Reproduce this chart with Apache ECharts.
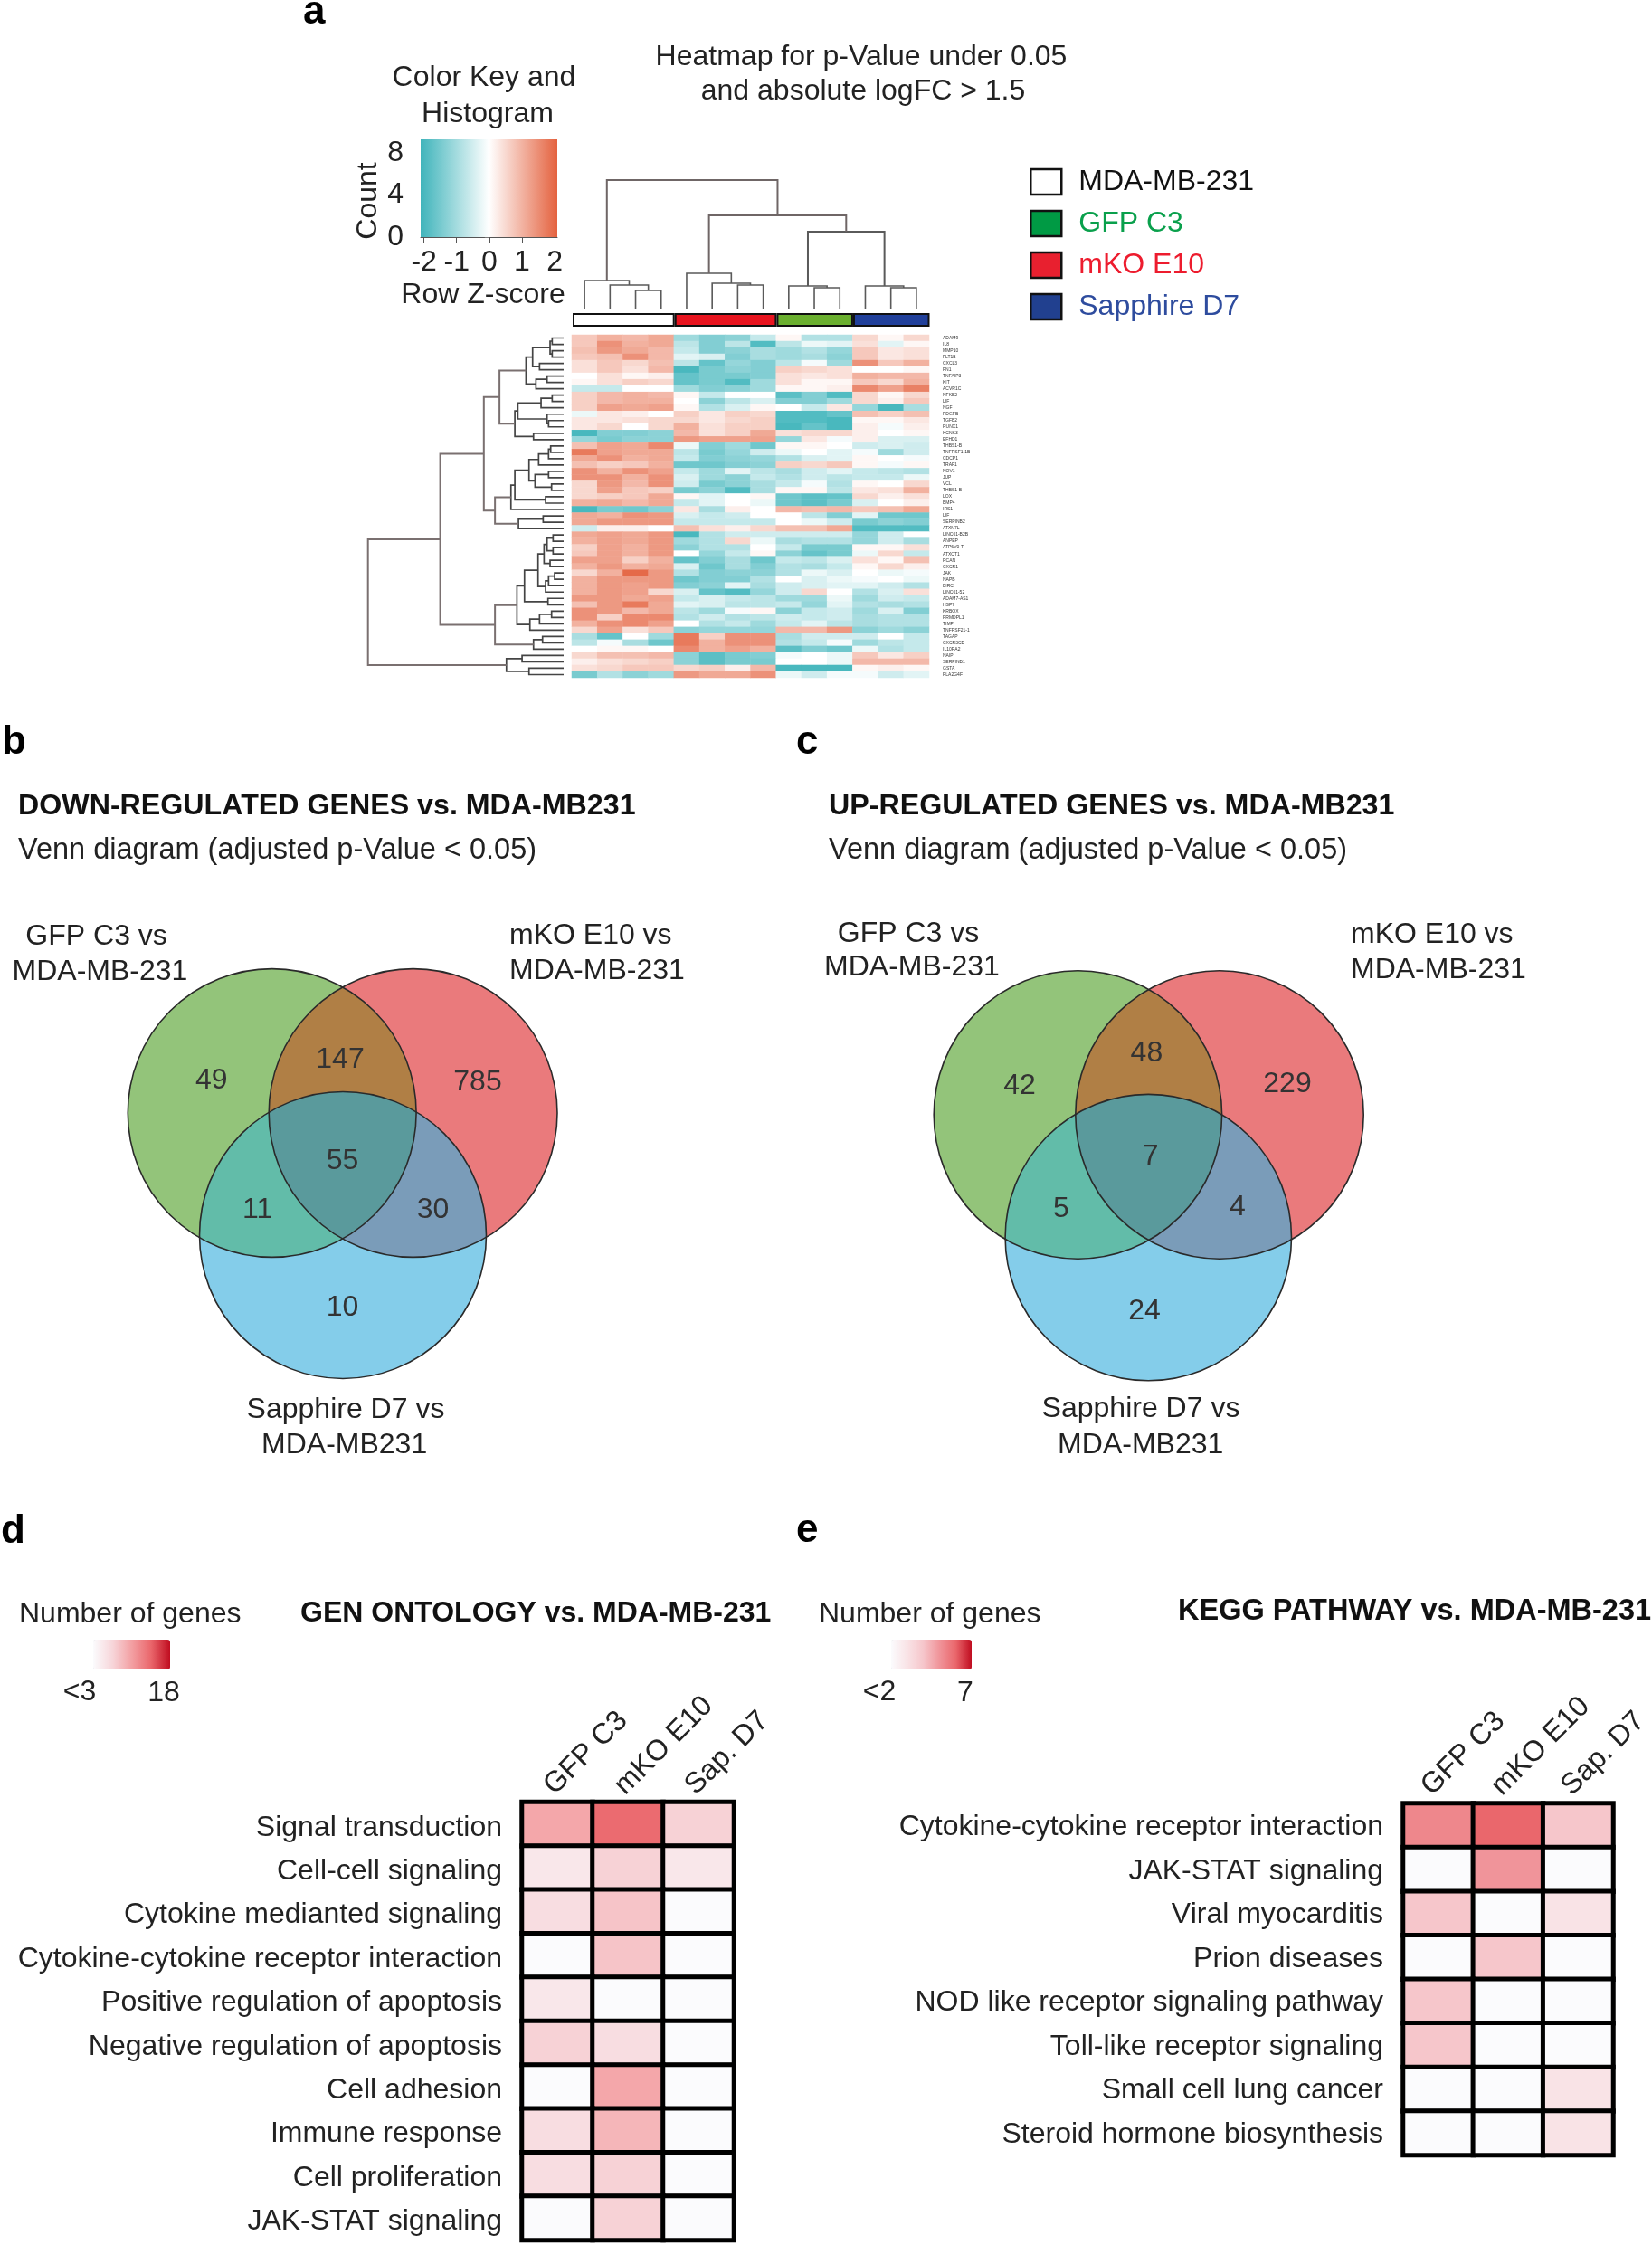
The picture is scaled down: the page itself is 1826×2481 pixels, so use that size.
<!DOCTYPE html>
<html><head><meta charset="utf-8"><style>html,body{margin:0;background:#fff}#c{width:1826px;height:2481px}</style>
<script src="https://cdn.jsdelivr.net/npm/echarts@6/dist/echarts.min.js"></script></head><body><div id="c"></div>
<script>
// ---------- DATA ----------
const heatColumns = ['1','2','3','4','5','6','7','8','9','10','11','12','13','14'];
const geneLabels = ['ADAM9','IL8','MMP10','FLT1B','CXCL3','FN1','TNFAIP3','KIT','ACVR1C','NFKB2','LIF','NGF','PDGFB','TGFB2','RUNX1','KCNK3','EFHD1','THBS1-B','TNFRSF1-1B','CDCP1','TRAF1','NOV1','JUP','VCL','THBS1-B','LOX','BMP4','IRS1','LIF','SERPINB2','ATXN7L','LINC01-B2B','ANPEP','ATP6V0-T','ATXCT1','RCAN','CXCR1','JAK','NAPB','BIRC','LINC01-52','ADAM7-AS1','HSP7','KRBOX','PRMDPL1','TIMP','TNFRSF21-1','TAGAP','CXCR3CB','IL10RA2','NAIP','SERPINB1','GSTA','PLA2G4F'];
const heatRows = [
[.7,1,.9,1.1,-1,-1.3,-1.2,-.6,.1,-.8,-.8,.5,.1,.5],
[.7,1.4,1,1.1,-.7,-1.3,-.7,-1.8,-.7,-.2,-.3,.4,-.3,.1],
[.8,1.3,1.1,.9,-.6,-1.3,-1.2,-.9,-1,-.8,-1.1,.7,.3,.4],
[.7,.8,1.4,.9,-.3,-.4,-1.3,-.9,-1,-.9,-1.2,.7,.3,.4],
[.4,.7,.5,.8,-.7,-1.6,-1.1,-1.3,-.7,-.1,-1,1.4,.7,1],
[.4,.7,.4,.9,-1.9,-1.4,-1.2,-1.3,.6,.5,.4,0,0,.1],
[0,.4,.1,.2,-1.6,-1.4,-1.4,-1.3,.4,.3,.4,1,.9,.9],
[.1,.4,.6,.5,-1.6,-1.4,-1.8,-1,.4,.1,.1,.7,.5,1],
[-.6,-.6,0,0,-1,-1.3,-1.2,-1,.1,.1,.2,1.5,1.2,1.6],
[.6,.9,1,.9,.1,-.6,0,0,-1.7,-1.3,-1.8,.5,.1,.5],
[.6,.9,1,1,0,-1.2,-.7,-.4,-1.3,-1.3,-1,.5,.2,.7],
[.6,1.2,1.1,1.2,.1,-.8,-.4,.1,0,-.6,.3,-1.1,-1.9,-.9],
[-.2,.3,.2,0,.6,.3,.6,.5,-1.8,-1.8,-1.6,.8,.6,.8],
[.3,.3,.4,.5,.5,.3,.5,.6,-1.8,-1.8,-1.9,.1,.1,.3],
[.3,.5,0,.5,1,.4,.6,.6,-1.9,-1.6,-1.9,.2,-.1,.2],
[-1.9,-1.3,-1.3,-1.2,.9,.4,.6,1.1,.4,.5,.5,.2,0,.1],
[-1.1,-1.4,-1.2,-1.2,1.3,1.2,1.2,1.2,-1.1,.3,-.1,.2,-.4,-.4],
[.8,1.2,1.1,1.5,-.2,-1.3,-1,-1.5,.1,.1,0,-.5,-.4,-.5],
[1.7,1.2,1.1,1.1,-.7,-1.4,-1.1,-.5,-.2,0,-.3,-.1,-1,-.5],
[1.1,1.4,1,1.1,-.6,-1.3,-1.2,-1.1,-.8,-.4,-.3,.1,0,-.1],
[.8,.6,.7,1,-1.5,-1.5,-1.3,-1.2,.6,.5,.7,.1,-.1,.1],
[1.4,1,1.4,1.2,-.6,-1,-.3,-.7,-.9,-.5,-.3,-.6,-.7,-.8],
[1.4,1.4,1,1.4,-.4,-1,-1.2,-.6,-.8,-.5,-.7,-.6,-.6,-.2],
[.5,1.3,.9,1.4,-.5,-1.4,-1.2,-.9,-.6,-.1,-.8,.1,0,.5],
[.5,1.2,.7,.6,-1.4,-1.2,-1.8,-.9,.1,.1,-.7,.3,.4,1],
[.5,.6,.7,1.1,.1,-.3,0,.1,-1.5,-1.7,-1.6,.5,.2,.4],
[1,1.1,.9,1.1,-.6,-.3,0,-.2,-1.5,-1.7,-1.4,-.4,0,.2],
[-1.9,-1.4,-1.5,-1.2,.3,-.9,.2,0,.9,.8,.9,.7,.8,1.1],
[1.1,1,1.4,1.3,-.4,-.6,-.5,0,0,-.7,-1.3,-.3,-1.5,-1.5],
[1.1,1.3,1.3,1.3,-.6,-.6,-.6,-.6,0,-.2,-.5,-1.4,-1.2,-1.3],
[-.5,.2,.2,0,.8,.4,.2,.5,.8,.8,1.1,-1.8,-1.8,-1.8],
[1.1,1.2,1.1,1.3,-1.9,-.8,-.5,-.5,-.5,-.5,-.5,-1.1,-.5,0],
[1,1.2,1.1,1.3,-1,-.8,.5,-.2,-.9,-.8,-.8,-1.1,-.5,-.9],
[.6,1.2,1,1.3,-1.2,-.8,-.8,0,-.6,-1.4,-1.4,.1,.1,.4],
[.7,1.2,1,1.3,0,-1.1,-.6,.1,-1.2,-1.6,-1.4,-.2,.5,-.6],
[1.2,1.2,.6,1,-1.6,-1.3,-.9,-1.5,-.6,-.7,-.4,.4,.1,.8],
[1,1.3,1,1.1,-.4,-1.5,-.9,-1.3,-.8,-.9,-.6,.1,.5,.2],
[.5,1,1.9,1.3,-.8,-1.3,-1.2,-1.2,-.8,-.2,-.4,0,-.2,-.1],
[1,1.3,1.3,1.3,-1.5,-1.3,-1.3,-.8,0,-.4,-.2,-.1,0,-.2],
[1,1.3,1.2,1.3,-1.3,-1.2,-.3,-.9,-.5,-.4,-.3,-.3,-.5,-.8],
[1,1.3,1.2,.5,-.4,-1.6,-1.8,-1.1,-.5,.5,0,-.8,-.4,.4],
[1.3,1.3,1.1,1.2,-.6,-.4,-.6,-.7,-1,-1,-.2,-1,-.5,-.6],
[.8,1.3,1.7,1.1,-.3,-.4,-.7,-.7,-.6,-1.1,-.3,-.8,-.9,-.8],
[1.4,1.3,.9,1.1,-.7,-1,-.1,.1,-1.2,-.6,-.5,-1,-.4,-1.3],
[1.4,.6,1.5,1.5,-.8,-.5,-.8,-.7,-.5,-.6,-.5,-.9,-.8,-.8],
[1,1.4,1.5,1.2,0,-.8,-.6,-1,-.6,-.3,-.7,-.9,-.8,-.8],
[.5,1.2,.4,.7,-1.2,-1.1,-1.1,-1.1,.9,.9,1.3,-1.2,-1,-1.2],
[-.9,-1.6,0,-1,1.7,.6,1.4,1.4,-.9,-.5,-.5,-.5,0,-.6],
[-.7,-.1,-.9,-1.5,1.7,1,1.4,1.4,-.8,-.6,-.1,-1,-.7,-.6],
[0,.1,.1,0,1.5,1,1.2,1,-1.7,-1.3,-1.5,-.2,-.8,-.6],
[.5,.8,.8,.9,-1.2,-1.7,-1.4,-1.3,-.1,0,-.2,.7,.3,.6],
[.2,.4,.5,.6,-1.2,-1.7,-1.4,-1.4,0,0,-.2,.9,.9,.9],
[.4,.5,.7,.7,.5,.6,.2,.9,-1.9,-1.9,-1.9,.1,.2,.1],
[-1.4,-.8,-1.2,-1,1.3,1.1,1.1,1.4,-.2,-.5,-.1,-.1,-.5,-.3]
];
const keyColors = ['#3fb4bb','#ffffff','#e4623f'];
const keyXTicks = [-2,-1,0,1,2];
const keyYLabels = [0,4,8];
const keyYTicks = [0,1.6,3.2,4.8,6.4,8];
// dendrograms: node = [mergeHeight, left, right], leaf = row/column index
const colTree = [143,[32,0,[27,1,[21,2,3]]],[104,[40,4,[29,5,[27,6,7]]],[86,[26,8,[24,9,10]],[26,11,[24,12,13]]]]];
const rowTree = [650,
 [410,
  [265,
   [213,
    [125,[103,[45,[38,0,1],[38,2,3]],[80,4,5]],[92,[55,6,7],8]],
    [162,[152,[75,[38,9,10],11],[55,12,[50,13,14]]],[100,15,16]]],
   [228,
    [175,[162,[115,[83,[50,[43,17,18],19],20],[95,[50,21,22],[40,23,24]]],[60,25,26]],27],
    [150,[68,28,29],30]]],
  [228,
   [155,
    [130,[85,[65,[55,[35,31,32],[35,33,34]],[45,35,36]],[60,[50,[30,37,38],39],40]],[52,41,42]],
    [112,[80,[40,43,44],45],46]],
   [100,[70,47,48],49]]],
 [190,[138,50,51],[115,52,53]]];
const groupNames = ['MDA-MB-231','mKO E10','GFP C3','Sapphire D7'];
const groupSizes = [4,4,3,3];
const groupColors = ['#ffffff','#e8141f','#6bb02f','#21409a'];
const legendOrder = ['MDA-MB-231','GFP C3','mKO E10','Sapphire D7'];
const legendSwatch = ['#ffffff','#009a44','#e8202f','#21408f'];
const legendText = ['#111111','#0aa04c','#ed1c2e','#2e4c9e'];
// venn counts: G, R, B, G&R, G&B, R&B, G&R&B
const vennDown = [49,785,10,147,11,30,55];
const vennUp = [42,229,24,48,5,4,7];
const vennSets = [[0],[1],[2],[0,1],[0,2],[1,2],[0,1,2]];
const vennColors = ['#93c47a','#ea7a7c','#84cdea','#b07f45','#62bca9','#7a9cb9','#5a9a9c'];
const conditions = ['GFP C3','mKO E10','Sap. D7'];
const goTerms = ['Signal transduction','Cell-cell signaling','Cytokine medianted signaling','Cytokine-cytokine receptor interaction','Positive regulation of apoptosis','Negative regulation of apoptosis','Cell adhesion','Immune response','Cell proliferation','JAK-STAT signaling'];
const goCounts = [[10,14,7],[5,7,5],[6,8,3],[3,8,3],[5,3,3],[7,6,3],[3,10,3],[6,9,3],[6,7,3],[3,7,3]];
const keggTerms = ['Cytokine-cytokine receptor interaction','JAK-STAT signaling','Viral myocarditis','Prion diseases','NOD like receptor signaling pathway','Toll-like receptor signaling','Small cell lung cancer','Steroid hormone biosynthesis'];
const keggCounts = [[5.3,6,4],[2,5,2],[4,2,3],[2,4,2],[4,2,2],[4,2,2],[2,2,3],[2,2,3]];
const goScale = ['#fbfbfd','#f7d6da','#f3a0a3','#ea676c','#c00d20'];
const keggScale = ['#fbfbfd','#f9e3e6','#f6c6cb','#f0949a','#ea676c','#c00d20'];

// ---------- LAYOUT ----------
const FONT = '"Liberation Sans", Arial, sans-serif';
const vennLayoutB = {circles:[[300.7,1230,159.4],[456.6,1230,159.4],[379,1365,158.5]],
  nums:[[233.7,1194],[528,1196.5],[378.6,1445],[376,1171],[284.7,1337],[478.6,1337],[378.6,1283]]};
const vennLayoutC = {circles:[[1191.4,1232,159.2],[1348,1232,159.2],[1269.3,1367.6,158.2]],
  nums:[[1127,1200],[1423,1198],[1265,1449],[1267.4,1164],[1173,1336],[1368,1334],[1271.7,1278]]};

function t(text,x,y,o){o=o||{};
  return {type:'text',x:x,y:y,rotation:o.rot||0,silent:true,style:{text:text,x:0,y:0,fill:o.color||'#222',
    fontSize:o.size||32,fontFamily:FONT,fontWeight:o.bold?'bold':'normal',
    align:o.align||'left',textAlign:o.align||'left',verticalAlign:'middle',textVerticalAlign:'middle',textBaseline:'middle'}};
}
const texts = [
 t('a',335,14,{size:44,bold:1,color:'#000'}), t('b',2,821,{size:44,bold:1,color:'#000'}),
 t('c',880,821,{size:44,bold:1,color:'#000'}), t('d',1,1693,{size:44,bold:1,color:'#000'}),
 t('e',880,1692,{size:44,bold:1,color:'#000'}),
 t('Heatmap for p-Value under 0.05',952,63,{align:'center'}), t('and absolute logFC > 1.5',954,101,{align:'center'}),
 t('Color Key and',535,86,{align:'center'}), t('Histogram',539,126,{align:'center'}),
 t('Count',407,222,{align:'center',rot:Math.PI/2}), t('Row Z-score',534,326,{align:'center'}),
 t('DOWN-REGULATED GENES vs. MDA-MB231',20,891,{bold:1,color:'#111',size:32.2}),
 t('Venn diagram (adjusted p-Value < 0.05)',20,940,{size:32.5}),
 t('GFP C3 vs',106.6,1035,{align:'center'}), t('MDA-MB-231',110.5,1074,{align:'center'}),
 t('mKO E10 vs',563,1034), t('MDA-MB-231',563,1073),
 t('Sapphire D7 vs',382,1558,{align:'center'}), t('MDA-MB231',380.6,1597,{align:'center'}),
 t('UP-REGULATED GENES vs. MDA-MB231',916,891,{bold:1,color:'#111',size:32.2}),
 t('Venn diagram (adjusted p-Value < 0.05)',916,940,{size:32.5}),
 t('GFP C3 vs',1004,1032,{align:'center'}), t('MDA-MB-231',1008,1069.6,{align:'center'}),
 t('mKO E10 vs',1493,1033.5), t('MDA-MB-231',1493,1072),
 t('Sapphire D7 vs',1261,1557,{align:'center'}), t('MDA-MB231',1260.7,1597,{align:'center'}),
 t('Number of genes',21,1784), t('GEN ONTOLOGY vs. MDA-MB-231',332,1783,{bold:1,color:'#111'}),
 t('<3',88,1870,{align:'center'}), t('18',181,1871,{align:'center'}),
 t('Number of genes',905,1784), t('KEGG PATHWAY vs. MDA-MB-231',1302,1781,{bold:1,color:'#111',size:32.5}),
 t('<2',972,1870,{align:'center'}), t('7',1067,1871,{align:'center'})
];

// ---------- HELPERS ----------
function mergesOf(tree){ // -> list of [h, pos1, h1, pos2, h2]
  const out=[];
  (function walk(n){
    if(typeof n==='number') return {p:n+.5,h:0};
    const a=walk(n[1]), b=walk(n[2]);
    out.push([n[0],a.p,a.h,b.p,b.h]);
    return {p:(a.p+b.p)/2,h:n[0]};
  })(tree);
  return out;
}
function regionPolygon(circles,set){
  const pts=[],N=720;
  set.forEach(i=>{const c=circles[i];
    for(let k=0;k<N;k++){const a=k/N*2*Math.PI,x=c[0]+c[2]*Math.cos(a),y=c[1]+c[2]*Math.sin(a);
      if(set.every(j=>j===i||Math.hypot(x-circles[j][0],y-circles[j][1])<=circles[j][2])) pts.push([x,y]);}
  });
  const cx=pts.reduce((s,p)=>s+p[0],0)/pts.length, cy=pts.reduce((s,p)=>s+p[1],0)/pts.length;
  pts.sort((p,q)=>Math.atan2(p[1]-cy,p[0]-cx)-Math.atan2(q[1]-cy,q[0]-cx));
  return pts;
}
function vennSeries(values,layout){
  return [{type:'custom',coordinateSystem:'none',silent:true,data:values.map((v,i)=>[i,v]),
    renderItem:(p,api)=>{const i=api.value(0);
      return {type:'group',children:[
        {type:'polygon',shape:{points:regionPolygon(layout.circles,vennSets[i])},style:{fill:vennColors[i]}},
        {type:'text',z2:5,style:{text:String(api.value(1)),x:layout.nums[i][0],y:layout.nums[i][1],fill:'#333',font:'32px '+FONT,
          align:'center',textAlign:'center',verticalAlign:'middle',textVerticalAlign:'middle',textBaseline:'middle'}}]};}},
   {type:'custom',coordinateSystem:'none',silent:true,z:3,data:layout.circles.map((c,i)=>[i]),
    renderItem:(p,api)=>{const c=layout.circles[api.value(0)];
      return {type:'circle',shape:{cx:c[0],cy:c[1],r:c[2]},style:{fill:'none',stroke:'#2a2a2a',lineWidth:1.6}};}}];
}
function dendro(tree,gridIdx,horizontal,colorFn,widthFn){
  return {type:'custom',coordinateSystem:'cartesian2d',xAxisIndex:gridIdx,yAxisIndex:gridIdx,silent:true,clip:false,
    data:mergesOf(tree),
    renderItem:(p,api)=>{
      const h=api.value(0),p1=api.value(1),h1=api.value(2),p2=api.value(3),h2=api.value(4);
      const c=(pos,ht)=>api.coord(horizontal?[pos,ht]:[ht,pos]);
      return {type:'polyline',shape:{points:[c(p1,h1),c(p1,h),c(p2,h),c(p2,h2)]},
        style:{fill:'none',stroke:colorFn(h),lineWidth:widthFn(h)}};}};
}
const hidden=(o)=>Object.assign({show:false},o);
function gridAxes(g,x,y){g.outerBoundsMode='none';grids.push(g);x.gridIndex=grids.length-1;y.gridIndex=grids.length-1;xAxes.push(x);yAxes.push(y);return grids.length-1;}
const grids=[],xAxes=[],yAxes=[],series=[],visualMaps=[];
const textBase={fontFamily:FONT,fontSize:32,color:'#222'};

// 0: color key
const gKey=gridAxes({left:465,top:154,width:151,height:108},
 {type:'value',min:-2.1,max:2.08,splitLine:{show:false},axisLine:{show:true,lineStyle:{color:'#555'}},
  axisTick:{show:true,length:6,lineStyle:{color:'#555'},customValues:keyXTicks},
  axisLabel:Object.assign({margin:12,customValues:keyXTicks,formatter:v=>String(v),hideOverlap:false},textBase)},
 {type:'value',min:0,max:9.3,splitLine:{show:false},axisLine:{show:false},
  axisTick:{show:true,length:5,lineStyle:{color:'#777'},customValues:keyYTicks},
  axisLabel:Object.assign({margin:19,customValues:keyYLabels},textBase)});
series.push({type:'custom',coordinateSystem:'cartesian2d',xAxisIndex:gKey,yAxisIndex:gKey,silent:true,data:[[0]],
  renderItem:(p,api)=>({type:'rect',shape:{x:p.coordSys.x,y:p.coordSys.y,width:p.coordSys.width,height:p.coordSys.height},
    style:{fill:new echarts.graphic.LinearGradient(0,0,1,0,keyColors.map((c,i)=>({offset:i/(keyColors.length-1),color:c})))}})});

// 1: column dendrogram
const gCol=gridAxes({left:632,top:199,width:395,height:143},
  hidden({type:'value',min:0,max:14}),hidden({type:'value',min:0,max:143}));
series.push(dendro(colTree,gCol,true,h=>h>100?'#6f6666':'#5a5a5a',h=>h>80?2:1.6));

// 2: sidebar
const gBar=gridAxes({left:633,top:346,width:394.5,height:15},
  hidden({type:'value',min:0,max:14}),hidden({type:'category',data:['group']}));
groupNames.forEach((n,i)=>series.push({type:'bar',name:n,stack:'g',xAxisIndex:gBar,yAxisIndex:gBar,barWidth:'100%',clip:false,silent:true,
  data:[groupSizes[i]],itemStyle:{color:groupColors[i],borderColor:'#111',borderWidth:2}}));

// 3: row dendrogram
const gRow=gridAxes({left:406.7,top:370,width:216.3,height:379},
  hidden({type:'value',min:0,max:650,inverse:true}),hidden({type:'value',min:0,max:54,inverse:true}));
series.push(dendro(rowTree,gRow,false,h=>h>190?'#7a7070':'#444',h=>h>190?2:1.7));

// 4: main heatmap
const gHeat=gridAxes({left:632,top:370,width:395,height:379},
  hidden({type:'category',data:heatColumns}),
  {type:'category',data:geneLabels,inverse:true,position:'right',axisLine:{show:false},axisTick:{show:false},splitLine:{show:false},
   axisLabel:{interval:0,fontSize:5,color:'#333',fontFamily:FONT,margin:15,hideOverlap:false}});
const heatData=[];heatRows.forEach((r,y)=>r.forEach((v,x)=>heatData.push([x,y,v])));
visualMaps.push({show:false,type:'continuous',min:-2,max:2,dimension:2,seriesIndex:series.length,inRange:{color:keyColors}});
series.push({type:'heatmap',xAxisIndex:gHeat,yAxisIndex:gHeat,silent:true,data:heatData});

// 5, 6: enrichment heatmaps
function enrich(terms,counts,box,scale,min,max,legendBox,labelDrop,topLift,topMargin){
  const g=gridAxes(box,
   {type:'category',data:conditions,position:'top',axisLine:{show:false},axisTick:{show:false},splitLine:{show:false},
    axisLabel:{interval:0,rotate:-45,margin:topMargin,hideOverlap:false,formatter:'{a|{value}}',
      rich:{a:Object.assign({padding:[0,0,topLift,0]},textBase)}}},
   {type:'category',data:terms,inverse:true,axisLine:{show:false},axisTick:{show:false},splitLine:{show:false},
    axisLabel:{interval:0,margin:22,hideOverlap:false,formatter:'{a|{value}}',
      rich:{a:Object.assign({padding:[labelDrop,0,0,0]},textBase)}}});
  const d=[];counts.forEach((r,y)=>r.forEach((v,x)=>d.push([x,y,v])));
  visualMaps.push(Object.assign({type:'continuous',orient:'horizontal',min:min,max:max,dimension:2,seriesIndex:series.length,
    calculable:false,hoverLink:false,realtime:false,inRange:{color:scale},itemWidth:33},legendBox));
  series.push({type:'heatmap',xAxisIndex:g,yAxisIndex:g,silent:true,data:d,itemStyle:{borderColor:'#000',borderWidth:5}});
}
enrich(goTerms,goCounts,{left:577,top:1991.5,width:234,height:484},goScale,3,18,{left:88,top:1797,itemHeight:85},8,26,4);
enrich(keggTerms,keggCounts,{left:1551,top:1993,width:232,height:388.5},keggScale,2,7,{left:970,top:1797,itemHeight:89},4,37,1);

// venns
series.push(...vennSeries(vennDown,vennLayoutB),...vennSeries(vennUp,vennLayoutC));

const option={animation:false,backgroundColor:'#fff',grid:grids,xAxis:xAxes,yAxis:yAxes,series:series,visualMap:visualMaps,
  graphic:{elements:texts},
  legend:{left:1133,top:180,orient:'vertical',itemWidth:34,itemHeight:28,itemGap:14,selectedMode:false,
    data:legendOrder.map((n,i)=>({name:n,icon:'rect',itemStyle:{color:legendSwatch[i],borderColor:'#111',borderWidth:2.5},
      textStyle:{color:legendText[i],fontSize:32,fontFamily:FONT,padding:[0,0,0,14]}}))}};
const chart=echarts.init(document.getElementById('c'));
chart.setOption(option);
</script></body></html>
